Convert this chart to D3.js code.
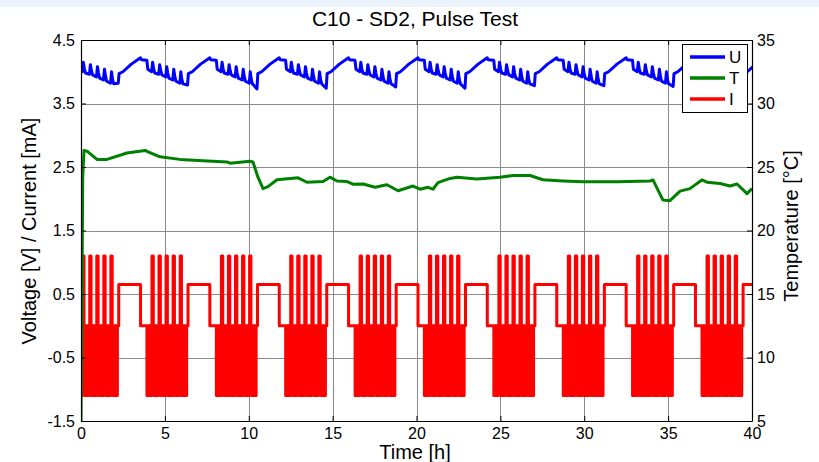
<!DOCTYPE html>
<html>
<head>
<meta charset="utf-8">
<script src="https://cdn.jsdelivr.net/npm/d3@7"></script>
<style>
  html, body { margin: 0; padding: 0; background: #ffffff; }
  svg { display: block; font-family: "Liberation Sans", Arial, sans-serif; }
</style>
</head>
<body>
<svg id="chart" width="819" height="462"></svg>
<script>
// ---- Axis settings -------------------------------------------------------
const xTicks = [0, 5, 10, 15, 20, 25, 30, 35, 40];
const leftTicks = [-1.5, -0.5, 0.5, 1.5, 2.5, 3.5, 4.5];
const rightTicks = [5, 10, 15, 20, 25, 30, 35];
const seriesNames = ["U", "T", "I"];
const seriesColors = ["#0000ff", "#008000", "#ff0000"];

// ---- Pulse schedule (current I, mA) --------------------------------------
// start time of each pulse block [h]
const blockStarts = [-0.2, 3.93, 8.07, 12.2, 16.34, 20.47, 24.61, 28.75, 32.88, 37.02];
// start of each of the five sub-periods inside a block [h after block start]
const subStarts = [0, 0.42, 0.84, 1.26, 1.68];
// one sub-period: discharge pulses followed by a charge pulse [offset h, mA]
const subPattern = [
  [0.00, -1.1], [0.03, 0], [0.06, -1.1], [0.09, 0], [0.12, -1.1], [0.15, 0],
  [0.18, -1.1], [0.21, 0], [0.24, -1.1], [0.27, 0], [0.30, 1.1], [0.38, 0]
];
// discharge pulses at the end of a block, then charge plateau and rest
const blockTail = [
  [2.10, -1.1], [2.13, 0], [2.18, -1.1], [2.21, 0], [2.26, -1.1], [2.29, 0],
  [2.34, -1.1], [2.37, 0], [2.45, 0.65], [3.75, 0]
];

// ---- Voltage U [V] for one cycle, relative to the block start -------------
const uCycle = [
  [0.00, 4.17], [0.05, 4.04], [0.28, 4.00], [0.34, 4.15], [0.40, 4.05],
  [0.47, 3.98], [0.70, 3.96], [0.76, 4.11], [0.82, 4.02], [0.89, 3.95],
  [1.12, 3.92], [1.18, 4.08], [1.24, 3.98], [1.31, 3.90], [1.54, 3.87],
  [1.60, 4.04], [1.66, 3.93], [1.73, 3.85], [1.96, 3.82], [2.02, 4.00],
  [2.08, 3.88], [2.15, 3.81], [2.42, 3.78], [2.47, 3.97], [2.70, 4.00],
  [3.20, 4.12], [3.75, 4.22], [3.80, 4.19], [4.13, 4.18]
];
// deepest voltage at the end of each block [V]
const uLow = [3.82, 3.79, 3.73, 3.74, 3.76, 3.74, 3.78, 3.78, 3.77, 3.76];

// ---- Temperature T [°C] ---------------------------------------------------
const tempTime = [
  0, 0.06, 0.10, 0.18, 0.36, 0.95, 1.55, 2.74, 3.82, 4.00, 4.71, 5.90, 7.27,
  8.70, 8.88, 10.07, 10.25, 10.55, 10.85, 11.15, 11.68, 12.46, 12.94, 13.47,
  14.43, 14.84, 15.26, 15.86, 16.21, 16.81, 17.53, 18.24, 18.90, 19.79, 20.21,
  20.69, 20.98, 21.28, 22.00, 22.41, 23.60, 24.98, 25.75, 26.77, 27.54, 28.73,
  29.93, 31.95, 33.92, 34.10, 34.39, 34.69, 35.11, 35.71, 36.30, 37.01, 37.32,
  38.09, 38.69, 39.11, 39.70, 40.00
];
const tempValue = [
  5.0, 15.0, 24.1, 26.3, 26.25, 25.6, 25.6, 26.1, 26.3, 26.2, 25.8, 25.6, 25.5,
  25.4, 25.3, 25.45, 25.4, 24.2, 23.3, 23.45, 24.0, 24.1, 24.15, 23.8,
  23.85, 24.2, 23.9, 23.85, 23.65, 23.66, 23.4, 23.6, 23.13, 23.5, 23.25,
  23.4, 23.25, 23.77, 24.1, 24.2, 24.06, 24.2, 24.33, 24.33, 24.0, 23.9,
  23.83, 23.83, 23.9, 23.98, 23.2, 22.4, 22.35, 23.1, 23.3, 23.98, 23.8,
  23.7, 23.5, 23.66, 22.9, 23.3
];

// ---- Layout ---------------------------------------------------------------
const W = 819, H = 462;
const plot = { left: 81, right: 752, top: 40, bottom: 421 };

const svg = d3.select("#chart");

// light band along the top edge of the figure
svg.append("rect").attr("x", 0).attr("y", 0).attr("width", W).attr("height", 7)
  .attr("fill", "#eaf2fb");

const x = d3.scaleLinear().domain([0, 40]).range([plot.left, plot.right]);
const yL = d3.scaleLinear().domain([-1.5, 4.5]).range([plot.bottom, plot.top]);
const yR = d3.scaleLinear().domain([5, 35]).range([plot.bottom, plot.top]);

// grid
const grid = svg.append("g").attr("stroke", "#8c8c8c").attr("stroke-width", 1);
xTicks.filter(t => t > 0 && t < 40).forEach(t => {
  grid.append("line").attr("x1", Math.round(x(t)) + 0.5).attr("x2", Math.round(x(t)) + 0.5)
    .attr("y1", plot.top).attr("y2", plot.bottom);
});
leftTicks.filter(t => t > -1.5 && t < 4.5).forEach(t => {
  grid.append("line").attr("y1", Math.round(yL(t)) + 0.5).attr("y2", Math.round(yL(t)) + 0.5)
    .attr("x1", plot.left).attr("x2", plot.right);
});

// clip to the plot box
svg.append("defs").append("clipPath").attr("id", "plotClip")
  .append("rect").attr("x", plot.left).attr("y", plot.top)
  .attr("width", plot.right - plot.left).attr("height", plot.bottom - plot.top);

// ---- Build series from the schedule tables -------------------------------
const currentPts = [];
blockStarts.forEach(b => {
  subStarts.forEach(s => subPattern.forEach(([o, v]) => currentPts.push([b + s + o, v])));
  blockTail.forEach(([o, v]) => currentPts.push([b + o, v]));
});
currentPts.push([41, 0.65]);
// the last block ends on the charge plateau
currentPts[currentPts.length - 2][1] = 0.65;

const voltagePts = [];
blockStarts.forEach((b, i) => {
  uCycle.forEach(([o, v], k) => {
    voltagePts.push([b + o, k === 22 ? uLow[i] : v]);
  });
});

const tempPts = tempTime.map((t, i) => [t, tempValue[i]]);

const data = svg.append("g").attr("clip-path", "url(#plotClip)");

data.append("path").datum(currentPts)
  .attr("fill", "none").attr("stroke", seriesColors[2]).attr("stroke-width", 3)
  .attr("stroke-linejoin", "round")
  .attr("d", d3.line().x(d => x(d[0])).y(d => yL(d[1])).curve(d3.curveStepAfter));

data.append("path").datum(voltagePts)
  .attr("fill", "none").attr("stroke", seriesColors[0]).attr("stroke-width", 3)
  .attr("stroke-linejoin", "round")
  .attr("d", d3.line().x(d => x(d[0])).y(d => yL(d[1])));

data.append("path").datum(tempPts)
  .attr("fill", "none").attr("stroke", seriesColors[1]).attr("stroke-width", 3)
  .attr("stroke-linejoin", "round")
  .attr("d", d3.line().x(d => x(d[0])).y(d => yR(d[1])));

// ---- Axes -----------------------------------------------------------------
const fmt = d => String(d);
const tickFont = 16;

const axBottom = svg.append("g").attr("transform", `translate(0,${plot.bottom})`)
  .call(d3.axisBottom(x).tickValues(xTicks).tickFormat(fmt).tickSizeInner(-5).tickSizeOuter(0).tickPadding(7));
const axTop = svg.append("g").attr("transform", `translate(0,${plot.top})`)
  .call(d3.axisTop(x).tickValues(xTicks).tickFormat("").tickSizeInner(-5).tickSizeOuter(0));
const axLeft = svg.append("g").attr("transform", `translate(${plot.left},0)`)
  .call(d3.axisLeft(yL).tickValues(leftTicks).tickFormat(fmt).tickSizeInner(-5).tickSizeOuter(0).tickPadding(6));
const axRight = svg.append("g").attr("transform", `translate(${plot.right},0)`)
  .call(d3.axisRight(yR).tickValues(rightTicks).tickFormat(fmt).tickSizeInner(-5).tickSizeOuter(0).tickPadding(5));

[axBottom, axTop, axLeft, axRight].forEach(a => {
  a.select(".domain").attr("stroke", "#000").attr("stroke-width", 1.2);
  a.selectAll(".tick line").attr("stroke", "#000");
  a.selectAll(".tick text").attr("font-size", tickFont).attr("fill", "#000")
    .attr("font-family", "'Liberation Sans', Arial, sans-serif");
});

// ---- Titles ---------------------------------------------------------------
svg.append("text").attr("x", 415).attr("y", 26).attr("text-anchor", "middle")
  .attr("font-size", 21).text("C10 - SD2, Pulse Test");
svg.append("text").attr("x", 415).attr("y", 459).attr("text-anchor", "middle")
  .attr("font-size", 20).text("Time [h]");
svg.append("text").attr("transform", "translate(36,231) rotate(-90)").attr("text-anchor", "middle")
  .attr("font-size", 20).text("Voltage [V] / Current [mA]");
svg.append("text").attr("transform", "translate(798,226) rotate(-90)").attr("text-anchor", "middle")
  .attr("font-size", 20).text("Temperature [°C]");

// ---- Legend ---------------------------------------------------------------
const lg = svg.append("g");
lg.append("rect").attr("x", 682.5).attr("y", 44.5).attr("width", 65).attr("height", 68)
  .attr("fill", "#fff").attr("stroke", "#000").attr("stroke-width", 1);
seriesNames.forEach((n, i) => {
  const yy = 57 + i * 21;
  lg.append("line").attr("x1", 690).attr("x2", 725).attr("y1", yy).attr("y2", yy)
    .attr("stroke", seriesColors[i]).attr("stroke-width", 3.5);
  lg.append("text").attr("x", 729).attr("y", yy + 6).attr("font-size", 17).text(n);
});
</script>
</body>
</html>
